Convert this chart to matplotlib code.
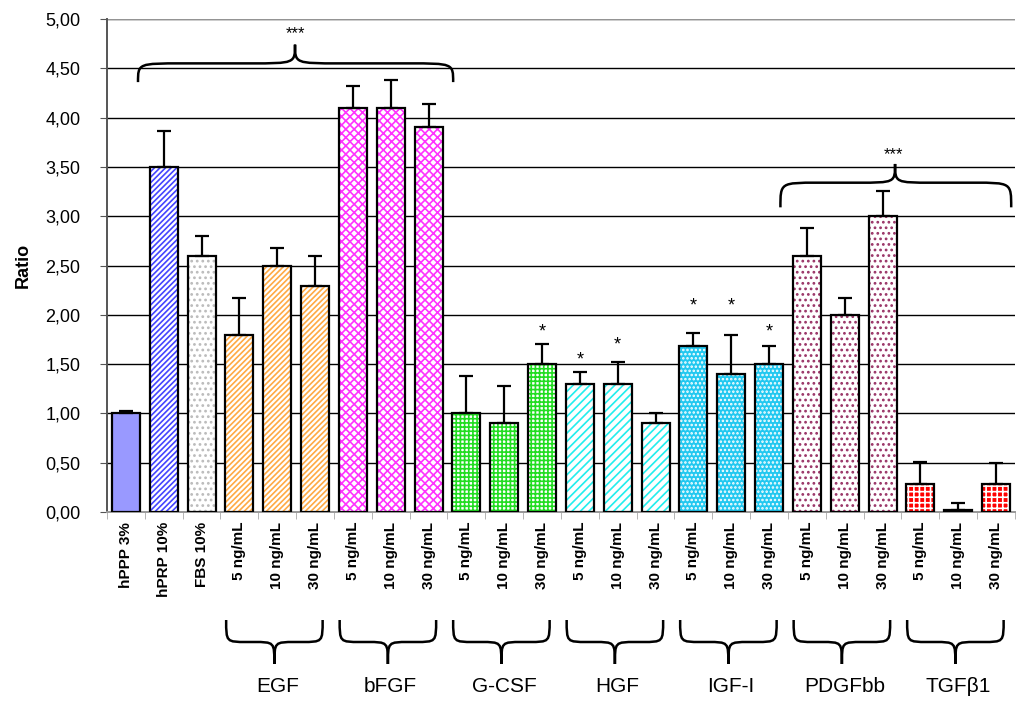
import numpy as np
import matplotlib
matplotlib.use("Agg")
import matplotlib.pyplot as plt
from matplotlib.path import Path
from matplotlib.patches import PathPatch
from matplotlib import transforms

plt.rcParams['font.family'] = ['Liberation Sans', 'DejaVu Sans']
plt.rcParams['hatch.linewidth'] = 1.2

# data
labels = ["hPPP 3%", "hPRP 10%", "FBS 10%"] + ["5 ng/mL", "10 ng/mL", "30 ng/mL"] * 7
values = [1.00, 3.50, 2.60,
          1.80, 2.50, 2.29,
          4.10, 4.10, 3.90,
          1.00, 0.90, 1.50,
          1.30, 1.30, 0.90,
          1.68, 1.40, 1.50,
          2.60, 2.00, 3.00,
          0.28, 0.02, 0.28]
errors = [0.02, 0.36, 0.20,
          0.37, 0.18, 0.31,
          0.22, 0.28, 0.24,
          0.38, 0.38, 0.20,
          0.12, 0.22, 0.10,
          0.14, 0.40, 0.18,
          0.28, 0.17, 0.26,
          0.23, 0.07, 0.22]
groups = ["EGF", "bFGF", "G-CSF", "HGF", "IGF-I", "PDGFbb", "TGF\u03b21"]
group_start = [3, 6, 9, 12, 15, 18, 21]
# single stars (bar index, height)
star_idx = [11, 12, 13, 15, 16, 17]
star_y = [1.83, 1.54, 1.69, 2.09, 2.09, 1.83]

# (face, hatch colour, hatch) for each bar
styles = ([("#9999FF", "#9999FF", None),
           ("white", "#4444FF", "//////"),
           ("white", "#BBBBBB", "...")]
          + [("white", "#FFAA44", "//////")] * 3
          + [("white", "#FF33FF", "xxxx")] * 3
          + [("white", "#22DD22", "++++")] * 3
          + [("white", "#22EEEE", "////")] * 3
          + [("#22C8F0", "white", "....")] * 3
          + [("white", "#993366", "...")] * 3
          + [("#FF0000", "white", "+++")] * 3)

fig = plt.figure(figsize=(10.16, 7.04), dpi=100)
ax = fig.add_axes([0.1053, 0.2727, 0.8937, 0.7003])

x = np.arange(len(values))
width = 0.74

# hatch layer
for i in range(len(values)):
    face, hc, hatch = styles[i]
    ax.bar(x[i], values[i], width, color=face, edgecolor=hc, hatch=hatch,
           linewidth=0, zorder=2)
# outline + error bars
ax.bar(x, values, width, facecolor="none", edgecolor="black", linewidth=1.6, zorder=3)
ax.errorbar(x, values, yerr=[np.zeros(len(errors)), errors], fmt="none",
            ecolor="black", elinewidth=1.6, capsize=5, capthick=1.6, zorder=4)

ax.set_xlim(-0.5, len(values) - 0.5)
ax.set_ylim(0, 5)
ax.set_yticks(np.arange(0, 5.01, 0.5))
ax.set_yticklabels([f"{v:.2f}".replace(".", ",") for v in np.arange(0, 5.01, 0.5)],
                   fontsize=13)
ax.yaxis.grid(True, color="black", linewidth=1.0, zorder=0)
ax.set_axisbelow(True)
ax.axhline(5, color="#999999", linewidth=1.4, zorder=1)
for s in ["top", "right"]:
    ax.spines[s].set_visible(False)
ax.spines["left"].set_color("#555555")
ax.spines["left"].set_linewidth(1.4)
ax.spines["bottom"].set_color("#999999")
ax.spines["bottom"].set_linewidth(1.4)
ax.tick_params(axis="y", length=5, pad=14, color="#555555")
ax.set_ylabel("Ratio", fontsize=13, fontweight="bold", labelpad=10)

ax.set_xticks(x)
ax.set_xticklabels(labels, rotation=90, fontsize=11, fontweight="bold")
ax.tick_params(axis="x", length=0, pad=7)
ax.set_xticks(np.arange(-0.5, len(values), 1), minor=True)
ax.tick_params(axis="x", which="minor", length=5, color="#AAAAAA")


def brace(x0, x1, xc, y_end, y_mid, y_tip, trans, w=0.3):
    verts = [(x0, y_end), (x0, y_mid), (x0, y_mid), (x0 + w, y_mid),
             (xc - w, y_mid),
             (xc, y_mid), (xc, y_mid), (xc, y_tip),
             (xc, y_mid), (xc, y_mid), (xc + w, y_mid),
             (x1 - w, y_mid),
             (x1, y_mid), (x1, y_mid), (x1, y_end)]
    codes = [Path.MOVETO, Path.CURVE4, Path.CURVE4, Path.CURVE4,
             Path.LINETO,
             Path.CURVE4, Path.CURVE4, Path.CURVE4,
             Path.CURVE4, Path.CURVE4, Path.CURVE4,
             Path.LINETO,
             Path.CURVE4, Path.CURVE4, Path.CURVE4]
    ax.add_patch(PathPatch(Path(verts, codes), facecolor="none", edgecolor="black",
                           linewidth=1.8, transform=trans, clip_on=False, zorder=5))


# significance braces above the bars
brace(0.32, 8.65, 4.47, 4.36, 4.55, 4.74, ax.transData, w=1.2)
ax.text(4.47, 4.85, "***", ha="center", va="center", fontsize=12)
brace(17.3, 23.4, 20.33, 3.09, 3.34, 3.53, ax.transData, w=1.0)
ax.text(20.3, 3.62, "***", ha="center", va="center", fontsize=12)
for i, y in zip(star_idx, star_y):
    ax.text(x[i], y, "*", ha="center", va="center", fontsize=13)

# group braces below the labels
trans = transforms.blended_transform_factory(ax.transData, fig.transFigure)
for g, s in zip(groups, group_start):
    x0, x1 = s - 0.35, s + 2.2
    brace(x0, x1, (x0 + x1) / 2, 1 - 620 / 704, 1 - 642 / 704, 1 - 664 / 704, trans, w=0.55)
    ax.text(s + 1, 1 - 687 / 704, g, transform=trans, ha="center", va="center",
            fontsize=15)

fig.savefig("out.png", dpi=100)
